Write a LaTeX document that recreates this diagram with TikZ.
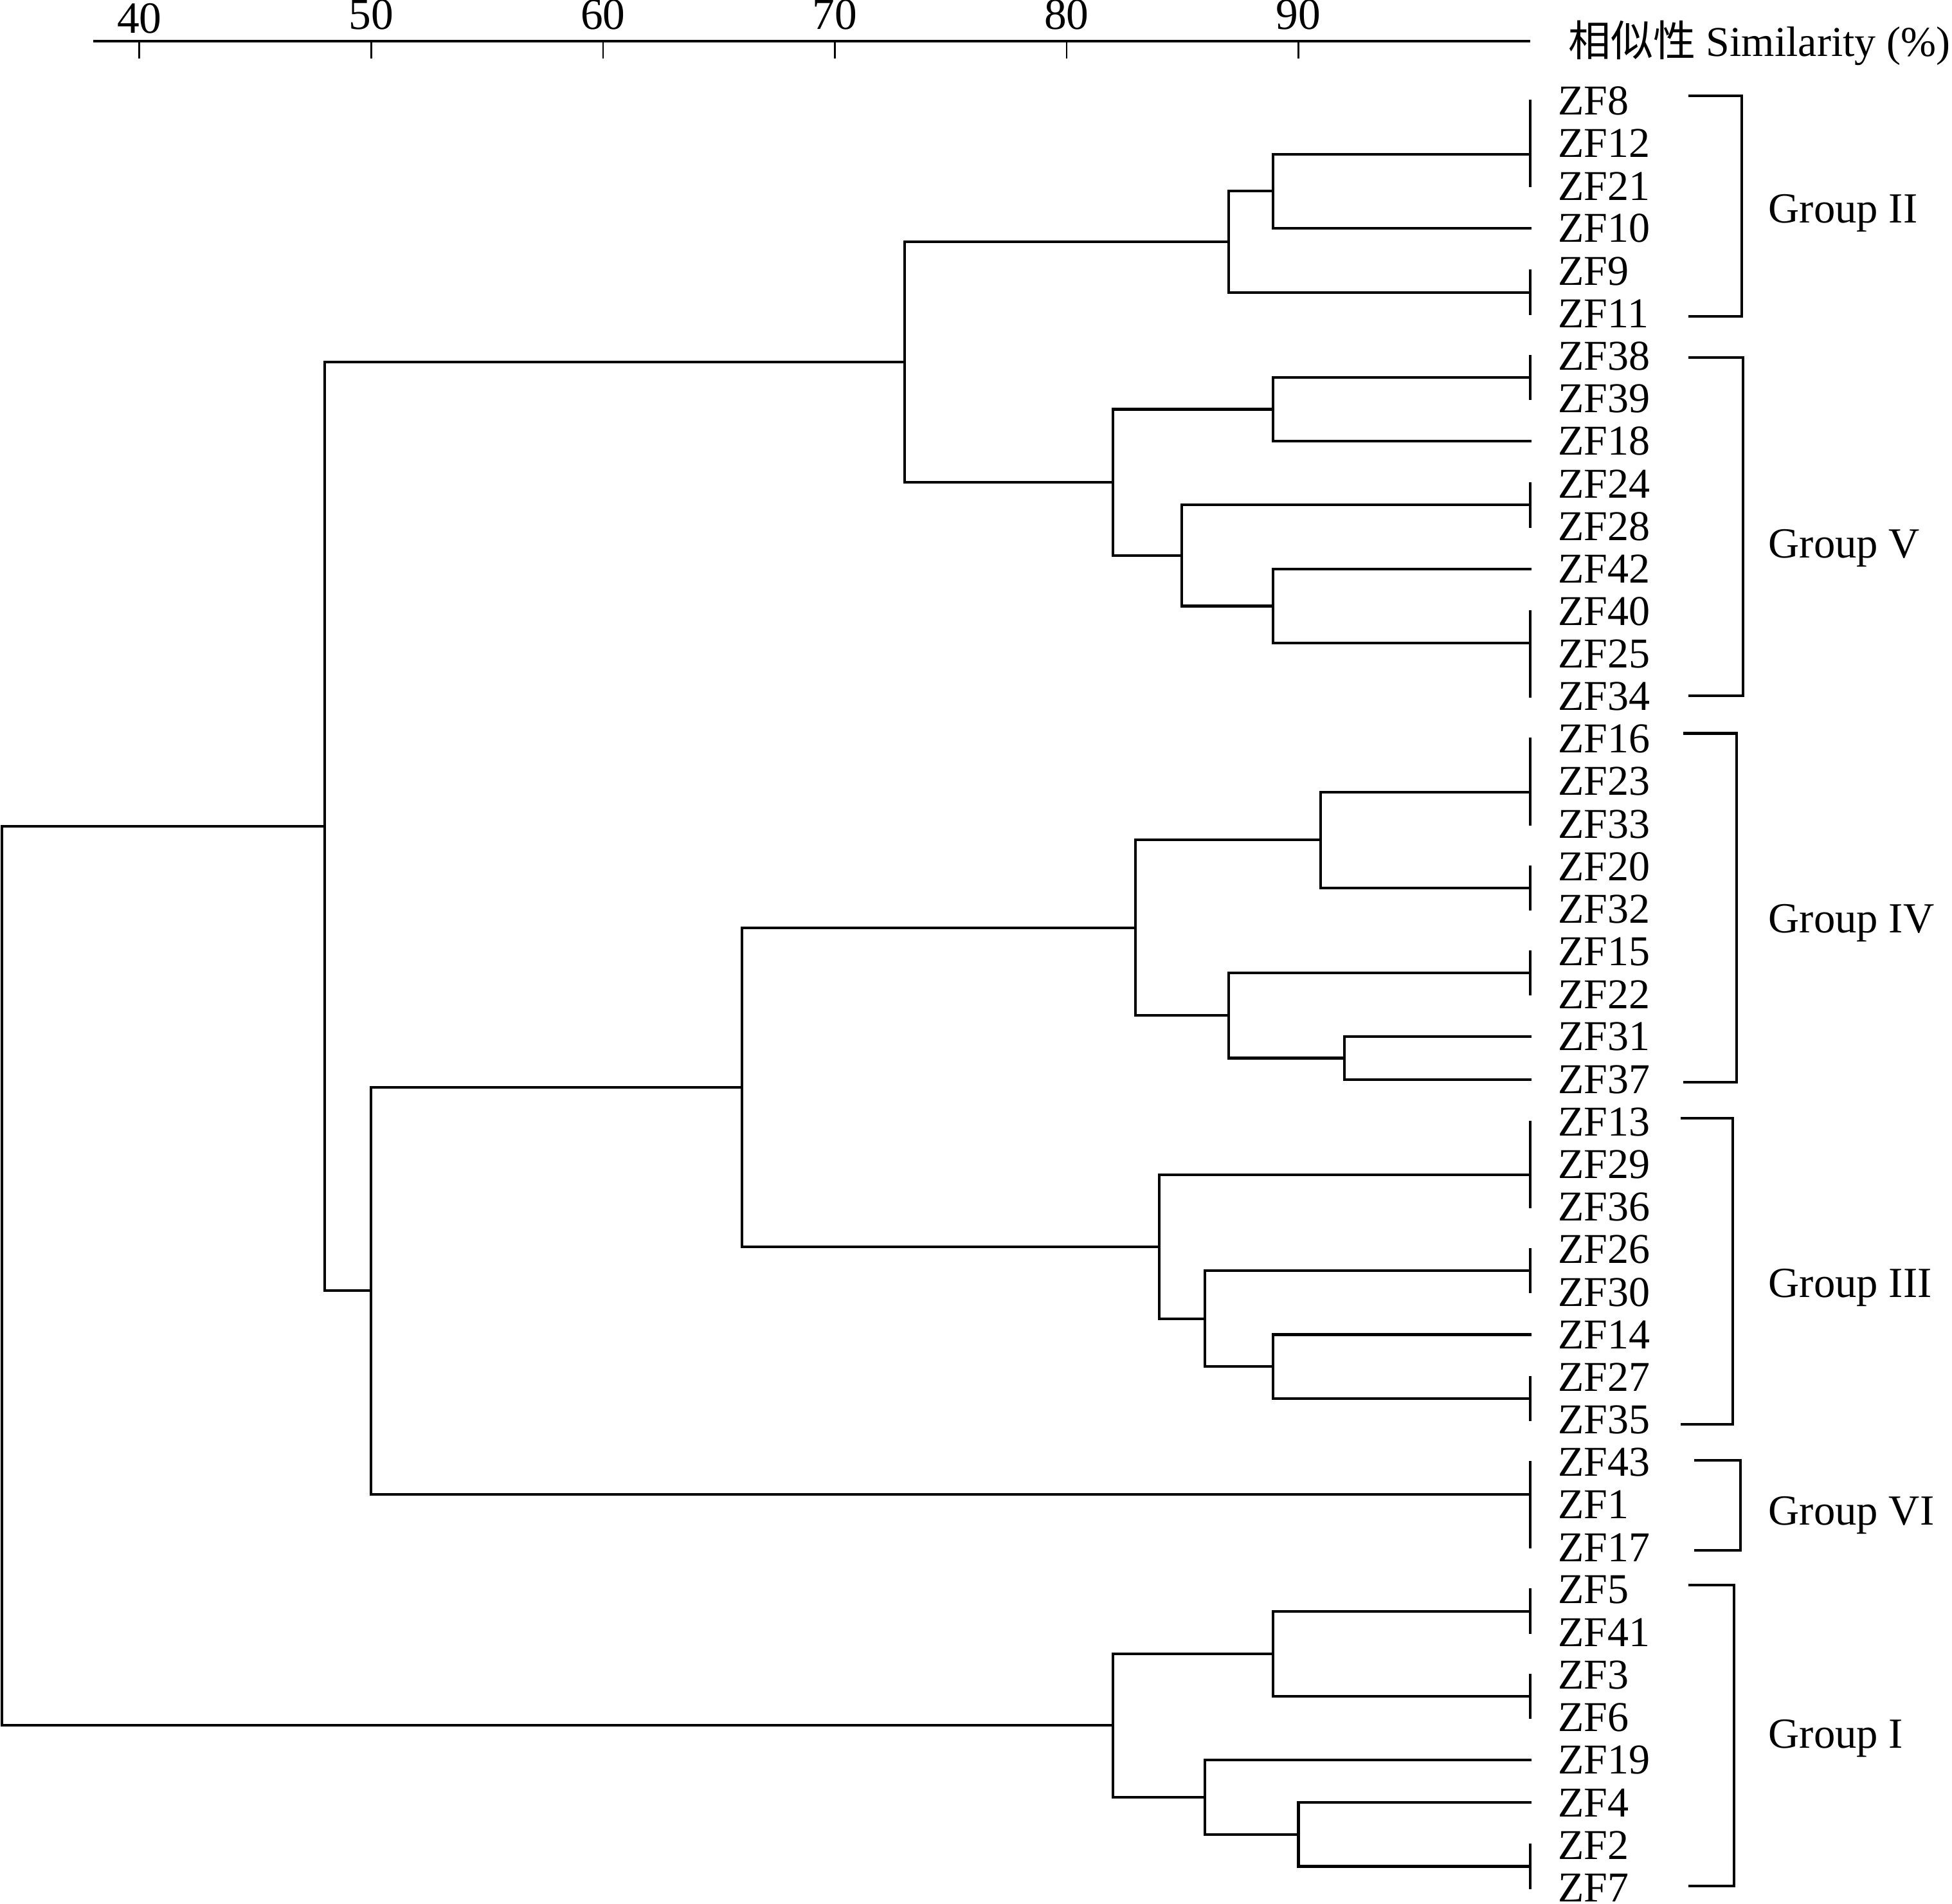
\documentclass[tikz,border=0pt]{standalone}
\usepackage{fontspec}
\setmainfont{Liberation Serif}
\newfontfamily\cjkfont{Noto Sans CJK SC}
\usetikzlibrary{calc}
\tikzset{
  branch/.style={line width=0.6pt, line cap=rect},
  axisline/.style={line width=0.6pt},
  tickline/.style={line width=0.4pt},
  bracketline/.style={line width=0.6pt},
  leaflabel/.style={anchor=west, inner sep=0pt, font=\fontsize{9.7}{11}\selectfont},
  ticklabel/.style={anchor=base, inner sep=0pt, font=\fontsize{10.2}{12}\selectfont},
  grouplabel/.style={anchor=base west, inner sep=0pt, font=\fontsize{9.8}{11}\selectfont},
}
\newcommand\dgjoin[4]{%
  \coordinate (tmpx) at (#2,0);
  \coordinate (tmpm) at ($(#3)!0.5!(#4)$);
  \coordinate (#1) at (tmpm -| tmpx);
  \draw[branch] (#3) -| (#1) |- (#4);
}
\begin{document}
\begin{tikzpicture}[x=0.01cm,y=-0.01cm]
\useasboundingbox (0,0) rectangle (1568,1529);

% axis
\coordinate (axL) at (75,33);
\coordinate (axR) at (1229.2,33);
\draw[axisline] (axL) -- (axR);
\foreach \v in {40,50,60,70,80,90} {
  \coordinate (tk\v) at ({112+(\v-40)*18.62},33);
  \coordinate (tkb\v) at ({112+(\v-40)*18.62},47);
  \draw[tickline] (tk\v) -- (tkb\v);
}
\node[ticklabel] (n40) at (112,26.5) {40};
\foreach \v in {50,60,70,80,90} {
  \node[ticklabel] (n\v) at ({112+(\v-40)*18.62},23.6) {\v};
}
\node[anchor=base west, inner sep=0pt, font=\fontsize{9.7}{11}\selectfont] (axtitle) at (1259,45) {{\cjkfont 相似性} Similarity (\%)};

% leaves
\foreach \n [count=\i from 0] in {ZF8,ZF12,ZF21,ZF10,ZF9,ZF11,ZF38,ZF39,ZF18,ZF24,ZF28,ZF42,ZF40,ZF25,ZF34,ZF16,ZF23,ZF33,ZF20,ZF32,ZF15,ZF22,ZF31,ZF37,ZF13,ZF29,ZF36,ZF26,ZF30,ZF14,ZF27,ZF35,ZF43,ZF1,ZF17,ZF5,ZF41,ZF3,ZF6,ZF19,ZF4,ZF2,ZF7} {
  \coordinate (\n) at (1229.2,{81+34.17*\i});
  \node[leaflabel] (lab\n) at (1251,{81+34.17*\i}) {\n};
}

% tree (Group II)
\dgjoin{T1a}{1229.2}{ZF8}{ZF12}
\dgjoin{T1}{1229.2}{T1a}{ZF21}
\dgjoin{A1}{1022.5}{T1}{ZF10}
\dgjoin{T2}{1229.2}{ZF9}{ZF11}
\dgjoin{A2}{987.1}{A1}{T2}
% Group V
\dgjoin{T3}{1229.2}{ZF38}{ZF39}
\dgjoin{B1}{1022.5}{T3}{ZF18}
\dgjoin{T4}{1229.2}{ZF24}{ZF28}
\dgjoin{T5a}{1229.2}{ZF25}{ZF34}
\dgjoin{T5}{1229.2}{ZF40}{T5a}
\dgjoin{B2}{1022.5}{ZF42}{T5}
\dgjoin{B3}{949.5}{T4}{B2}
\dgjoin{B4}{894}{B1}{B3}
\dgjoin{C}{726.5}{A2}{B4}
% Group IV
\dgjoin{T6a}{1229.2}{ZF16}{ZF23}
\dgjoin{T6}{1229.2}{T6a}{ZF33}
\dgjoin{T7}{1229.2}{ZF20}{ZF32}
\dgjoin{D1}{1061}{T6}{T7}
\dgjoin{T8}{1229.2}{ZF15}{ZF22}
\dgjoin{D3}{1080}{ZF31}{ZF37}
\dgjoin{D2}{987.1}{T8}{D3}
\dgjoin{D4}{912}{D1}{D2}
% Group III
\dgjoin{T9a}{1229.2}{ZF13}{ZF29}
\dgjoin{T9}{1229.2}{T9a}{ZF36}
\dgjoin{T10}{1229.2}{ZF26}{ZF30}
\dgjoin{T11}{1229.2}{ZF27}{ZF35}
\dgjoin{E1}{1022.5}{ZF14}{T11}
\dgjoin{E2}{968}{T10}{E1}
\dgjoin{E3}{931.3}{T9}{E2}
\dgjoin{F}{596.1}{D4}{E3}
% Group VI
\dgjoin{T12a}{1229.2}{ZF1}{ZF17}
\dgjoin{T12}{1229.2}{ZF43}{T12a}
\dgjoin{G}{298.2}{F}{T12}
\dgjoin{H}{261}{C}{G}
% Group I
\dgjoin{T13}{1229.2}{ZF5}{ZF41}
\dgjoin{T14}{1229.2}{ZF3}{ZF6}
\dgjoin{I1}{1022.5}{T13}{T14}
\dgjoin{T15}{1229.2}{ZF2}{ZF7}
\dgjoin{I2}{1043}{ZF4}{T15}
\dgjoin{I3}{968}{ZF19}{I2}
\dgjoin{I4}{894}{I1}{I3}
% root
\dgjoin{R}{1.5}{H}{I4}

% group brackets
\foreach \g/\xa/\xb/\yt/\yb/\ly/\txt in {
  II/1356/1399/77/254/179/Group II,
  V/1356/1400/287/559/448/Group V,
  IV/1352/1395/589/869/749/Group IV,
  III/1350/1392/898/1144/1042/Group III,
  VI/1361/1398/1173/1245/1225/Group VI,
  I/1356/1393/1273/1515/1404/Group I} {
  \coordinate (g\g a) at (\xa,\yt);
  \coordinate (g\g b) at (\xb,\yt);
  \coordinate (g\g c) at (\xb,\yb);
  \coordinate (g\g d) at (\xa,\yb);
  \draw[bracketline] (g\g a) -- (g\g b) -- (g\g c) -- (g\g d);
  \node[grouplabel] (lbl\g) at (1420,\ly) {\txt};
}
\end{tikzpicture}
\end{document}
